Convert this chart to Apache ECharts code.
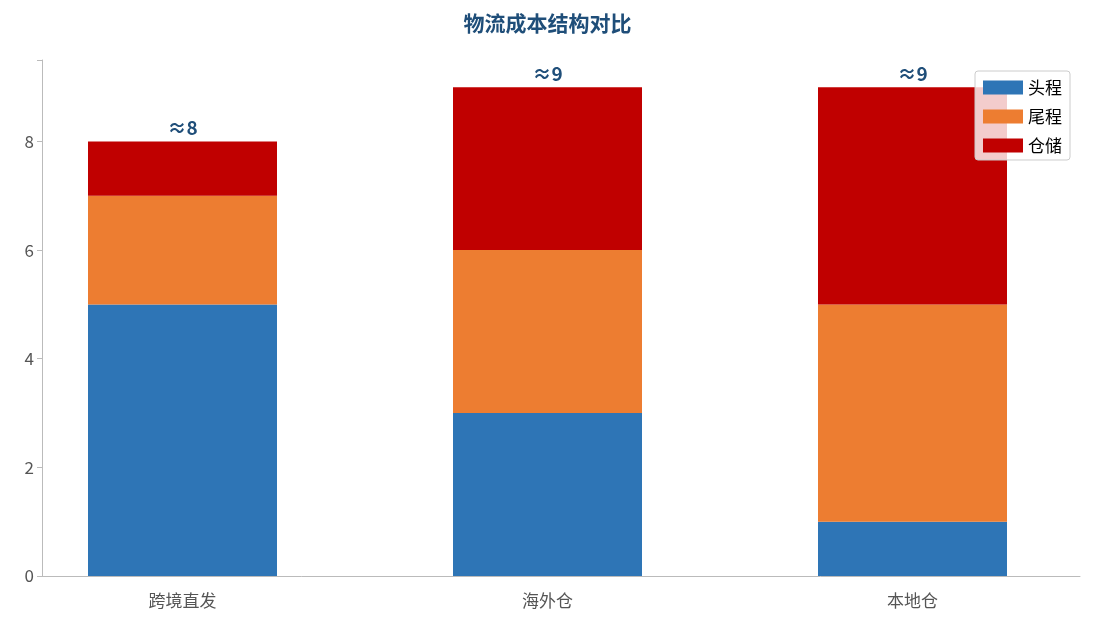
<!DOCTYPE html>
<html><head><meta charset="utf-8">
<script src="https://cdn.jsdelivr.net/npm/echarts@6/dist/echarts.min.js"></script>
<style>html,body{margin:0;padding:0;background:#fff}#c{width:1095px;height:629px}</style>
</head><body><div id="c"></div>
<script>
const categories = ['跨境直发','海外仓','本地仓'];
const headLeg = [5,3,1];
const tailLeg = [2,3,4];
const storage = [1,3,4];
const totalLabels = ['≈8','≈9','≈9'];
const yTicks = [0,2,4,6,8];
const chart = echarts.init(document.getElementById('c'));
const font = '"Noto Sans CJK SC","Noto Sans",sans-serif';
chart.setOption({
  animation:false,
  textStyle:{fontFamily:font},
  title:{text:'物流成本结构对比',left:'center',top:8,textStyle:{fontSize:21,fontWeight:'bold',color:'#1f4e79',fontFamily:font}},
  legend:{right:25,top:71,orient:'vertical',icon:'rect',itemWidth:40,itemHeight:14,itemGap:12,padding:[8,8,6,8],
    borderColor:'#ccc',borderWidth:1,borderRadius:3,backgroundColor:'rgba(255,255,255,0.8)',
    textStyle:{fontSize:17,color:'#000',fontFamily:font},data:['头程','尾程','仓储']},
  grid:[{left:-5.75,right:-31.75,top:60,bottom:53},{left:42,right:15,top:60,bottom:53}],
  xAxis:[
    {type:'category',gridIndex:0,data:categories,axisLine:{show:false},axisTick:{show:false},
      axisLabel:{fontSize:17,color:'#555',margin:16}},
    {type:'value',gridIndex:1,min:0,max:1,axisLine:{show:true,lineStyle:{color:'#bbb'}},axisTick:{show:false},
      axisLabel:{show:false},splitLine:{show:false}}
  ],
  yAxis:[
    {type:'value',gridIndex:0,min:0,max:9.5,show:false,splitLine:{show:false}},
    {type:'value',gridIndex:1,min:0,max:9.5,interval:2,splitLine:{show:false},
      axisLine:{show:true,lineStyle:{color:'#bbb'}},axisTick:{show:true,lineStyle:{color:'#bbb'}},
      axisLabel:{fontSize:17,color:'#555',formatter:v=>yTicks.includes(v)?String(v):''}}
  ],
  series:[
    {name:'头程',type:'bar',stack:'a',data:headLeg,barWidth:189,itemStyle:{color:'#2e75b6'}},
    {name:'尾程',type:'bar',stack:'a',data:tailLeg,itemStyle:{color:'#ed7d31'}},
    {name:'仓储',type:'bar',stack:'a',data:storage,itemStyle:{color:'#c00000'},
      label:{show:true,position:'top',distance:4,fontSize:19,fontWeight:'bold',color:'#1f4e79',
        formatter:p=>totalLabels[p.dataIndex]}}
  ]
});
</script></body></html>
